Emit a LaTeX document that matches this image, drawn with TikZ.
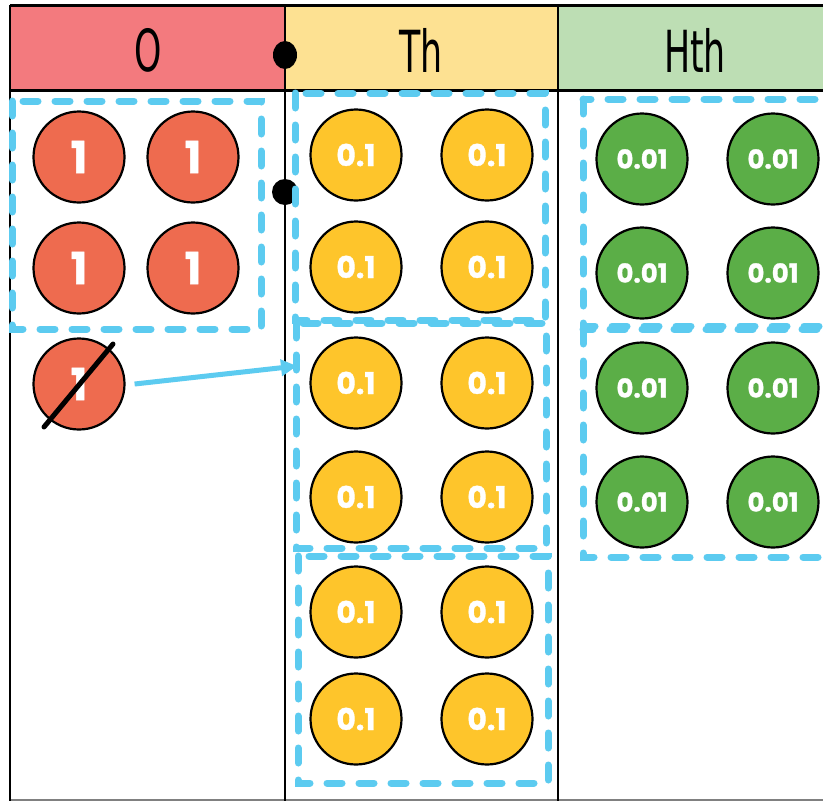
\documentclass[tikz,border=0pt]{standalone}
\usepackage{fontspec}
\setmainfont{DejaVu Sans}
\newfontfamily\headfont{DejaVu Sans}[FakeStretch=0.6]
\newfontfamily\coinfont{Poppins}[BoldFeatures={FakeBold=1.2}]
\usetikzlibrary{arrows.meta}
\definecolor{onesred}{HTML}{F37A7E}
\definecolor{tenthyellow}{HTML}{FDE192}
\definecolor{hthgreen}{HTML}{BDDEB4}
\definecolor{coinred}{HTML}{EE6B4F}
\definecolor{coinyellow}{HTML}{FEC52B}
\definecolor{coingreen}{HTML}{5BAE47}
\definecolor{groupblue}{HTML}{5CCBF0}
\tikzset{
  coin/.style={circle, draw=black, line width=2.2pt, minimum size=91pt, inner sep=0pt,
    text=white, font=\coinfont\bfseries\fontsize{30}{30}\selectfont},
  headtext/.style={font=\headfont\fontsize{58}{58}\selectfont},
  groupbox/.style={draw=groupblue, line width=7pt, line cap=round, dash pattern=on 15pt off 17pt},
}
\begin{document}
\begin{tikzpicture}[x=1pt,y=-1pt]
    \useasboundingbox (0,0) rectangle (823,801);
    \clip (0,0) rectangle (823,801);
        \fill[white](0,0) rectangle (823,801);
        \fill[onesred](10,5) rectangle (285,90);
        \fill[tenthyellow](285,5) rectangle (558,90);
        \fill[hthgreen](558,5) rectangle (830,90);
        \draw[line width=3pt](10,5) -- (830,5);
        \draw[line width=3pt](10,90) -- (830,90);
        \draw[gray, line width=1.5pt](10,800) -- (830,800);
        \draw[line width=2.5pt](10,5) -- (10,801);
        \draw[line width=2.5pt](285,5) -- (285,801);
        \draw[line width=2.5pt](558,5) -- (558,801);
        \node[headtext] (hO) at (148,50) {O};
        \node[headtext] (hTh) at (421,50) {Th};
        \node[headtext] (hHth) at (695,50) {Hth};
        \fill(285,55) ellipse[x radius=12, y radius=14];
        \fill(285,192) circle[radius=13];
        \foreach \i/\x/\y in {1/79/157,2/193/157,3/79/268,4/193/268,5/79/384}
            \node[coin, fill=coinred, font=\coinfont\bfseries\fontsize{44}{44}\selectfont] (o\i) at (\x,\y) {1};
        \foreach \i/\x/\y in {1/356/155,2/487/155,3/356/267,4/487/267,5/356/383,6/487/383,7/356/497,8/487/497,9/356/612,10/487/612,11/356/719,12/487/719}
            \node[coin, fill=coinyellow] (t\i) at (\x,\y) {0.1};
        \foreach \i/\x/\y in {1/642/159,2/773/159,3/642/273,4/773/273,5/642/388,6/773/388,7/642/502,8/773/502}
            \node[coin, fill=coingreen, font=\coinfont\bfseries\fontsize{26}{26}\selectfont] (h\i) at (\x,\y) {0.01};
        \draw[line width=5pt, line cap=round]([shift={(-35,43)}]o5.center) -- ([shift={(34,-40)}]o5.center);
        \draw[groupbox](12,101) rectangle (261,329);
        \draw[groupbox](295,93) rectangle (545,320);
        \draw[groupbox](296,323) rectangle (546,548);
        \draw[groupbox](298,556) rectangle (548,783);
        \draw[groupbox](583,99) rectangle (840,326);
        \draw[groupbox](583,329) rectangle (840,557);
        \coordinate (swap) at (297,366);
        \draw[groupblue, line width=5pt, -{Triangle[length=16pt,width=16pt]}]([xshift=9pt]o5.east) -- (swap);
    \end{tikzpicture}
\end{document}
